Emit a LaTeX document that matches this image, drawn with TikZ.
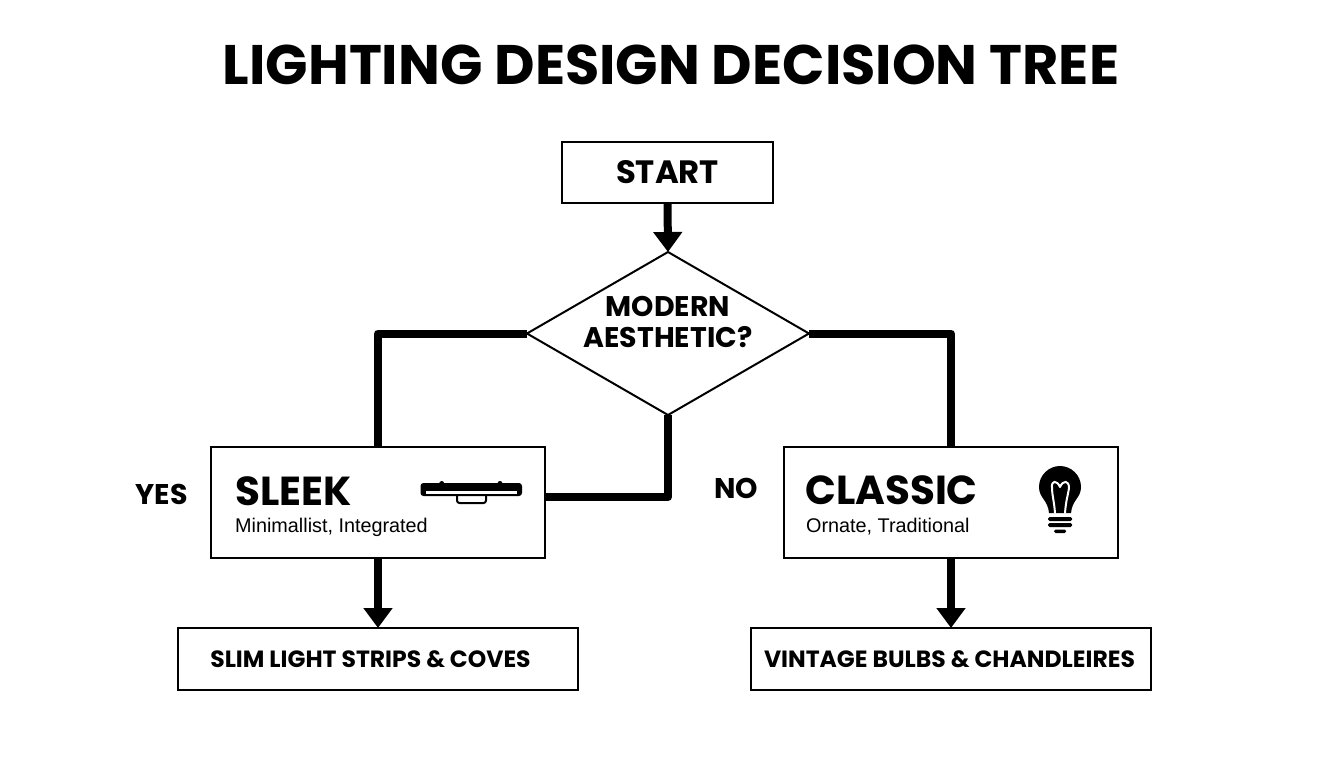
\documentclass[tikz,border=0pt]{standalone}
\usepackage{fontspec}
\setmainfont{Poppins}
\newfontfamily\subfont{Liberation Sans}
\usetikzlibrary{arrows.meta}
\usetikzlibrary{shapes.geometric}
\tikzset{
  box/.style={draw=black,line width=2pt,inner sep=0pt,outer sep=0pt,fill=white},
  flow/.style={line width=8pt,line join=round},
  flowarrow/.style={line width=8pt,-{Triangle[length=20pt,width=28pt]}},
  bigtext/.style={inner sep=0pt,font=\bfseries\fontsize{40.5}{40.5}\selectfont,anchor=base west},
  subtext/.style={inner sep=0pt,font=\subfont\fontsize{19.8}{20}\selectfont,anchor=base west},
  smalltext/.style={inner sep=0pt,font=\bfseries\fontsize{23.5}{23.5}\selectfont},
  sidetext/.style={inner sep=0pt,font=\bfseries\fontsize{28.5}{28.5}\selectfont},
}
\begin{document}
\begin{tikzpicture}[x=1pt,y=-1pt]
    \useasboundingbox (0,0) rectangle (1344,768);
    \fill[white] (0,0) rectangle (1344,768);
    \node[inner sep=0pt,font=\bfseries\fontsize{55.7}{55.7}\selectfont] (title) at (671,65) {LIGHTING DESIGN DECISION TREE};
    % boxes
    \node[box,minimum width=211pt,minimum height=61pt,font=\bfseries\fontsize{32.3}{32.3}\selectfont] (start) at (667.5,172.5) {START};
    \node[box,shape=diamond,aspect=1.73,minimum width=282pt,minimum height=163pt] (modern) at (668,333.5) {};
    \node[box,minimum width=334pt,minimum height=111pt] (sleek) at (378,502.5) {};
    \node[box,minimum width=334pt,minimum height=111pt] (classic) at (951,502.5) {};
    \node[box,minimum width=400pt,minimum height=62pt] (strips) at (378,659) {};
    \node[box,minimum width=400pt,minimum height=62pt] (bulbs) at (951,659) {};
    \node[smalltext] (stripstext) at (370.5,659) {SLIM LIGHT STRIPS \& COVES};
    \node[smalltext] (bulbstext) at (949.5,659) {VINTAGE BULBS \& CHANDLEIRES};
    % labels
    \node[inner sep=0pt,align=center,font=\bfseries\fontsize{28.4}{30.5}\selectfont] (moderntext) at (668,322) {MODERN\\AESTHETIC?};
    \node[bigtext] (sleektitle) at (235,505) {SLEEK};
    \node[subtext] (sleeksub) at (235,532) {Minimallist, Integrated};
    \node[bigtext] (classictitle) at (805,504) {CLASSIC};
    \node[subtext] (classicsub) at (806,532) {Ornate, Traditional};
    \node[sidetext] (yes) at (161.5,494) {YES};
    \node[sidetext] (no) at (736,488) {NO};
    % connectors
    \coordinate (sleekin) at (545,497);
    \draw[flowarrow] (start.south) -- (modern.north);
    \draw[flow] (modern.west) -| (sleek.north);
    \draw[flow] (modern.east) -| (classic.north);
    \draw[flow] (modern.south) |- (sleekin);
    \draw[flowarrow] (sleek.south) -- (strips.north);
    \draw[flowarrow] (classic.south) -- (bulbs.north);
    % strip icon
    \fill[rounded corners=3pt] (420.5,483) rectangle (522,496);
    \fill (441.7,483.5) circle (2.5pt);
    \fill (500,483.5) circle (2.5pt);
    \fill[white] (426,490.7) rectangle (517,494);
    \draw[line width=2pt,rounded corners=2.5pt] (457,496) -- (457,503) -- (486,503) -- (486,496);
    % bulb icon
    \fill (1049,513) .. controls (1048,500) and (1039,498) .. (1039,487)
      .. controls (1039,475) and (1049,466) .. (1060,466)
      .. controls (1071,466) and (1081,475) .. (1081,487)
      .. controls (1081,498) and (1072,500) .. (1071,513) -- cycle;
    \draw[white,line width=2pt,line cap=round,line join=round] (1055,513) .. controls (1054,500) and (1052,495) .. (1052,488)
      .. controls (1051,480) and (1057,480) .. (1060,487)
      .. controls (1063,480) and (1069,480) .. (1069,488)
      .. controls (1068,495) and (1066,500) .. (1065,513);
    \fill[rounded corners=1.5pt] (1048,517) rectangle (1072,521);
    \fill[rounded corners=1.5pt] (1048,523) rectangle (1072,527);
    \fill[rounded corners=1.5pt] (1054,529.5) rectangle (1066,533);
\end{tikzpicture}
\end{document}
